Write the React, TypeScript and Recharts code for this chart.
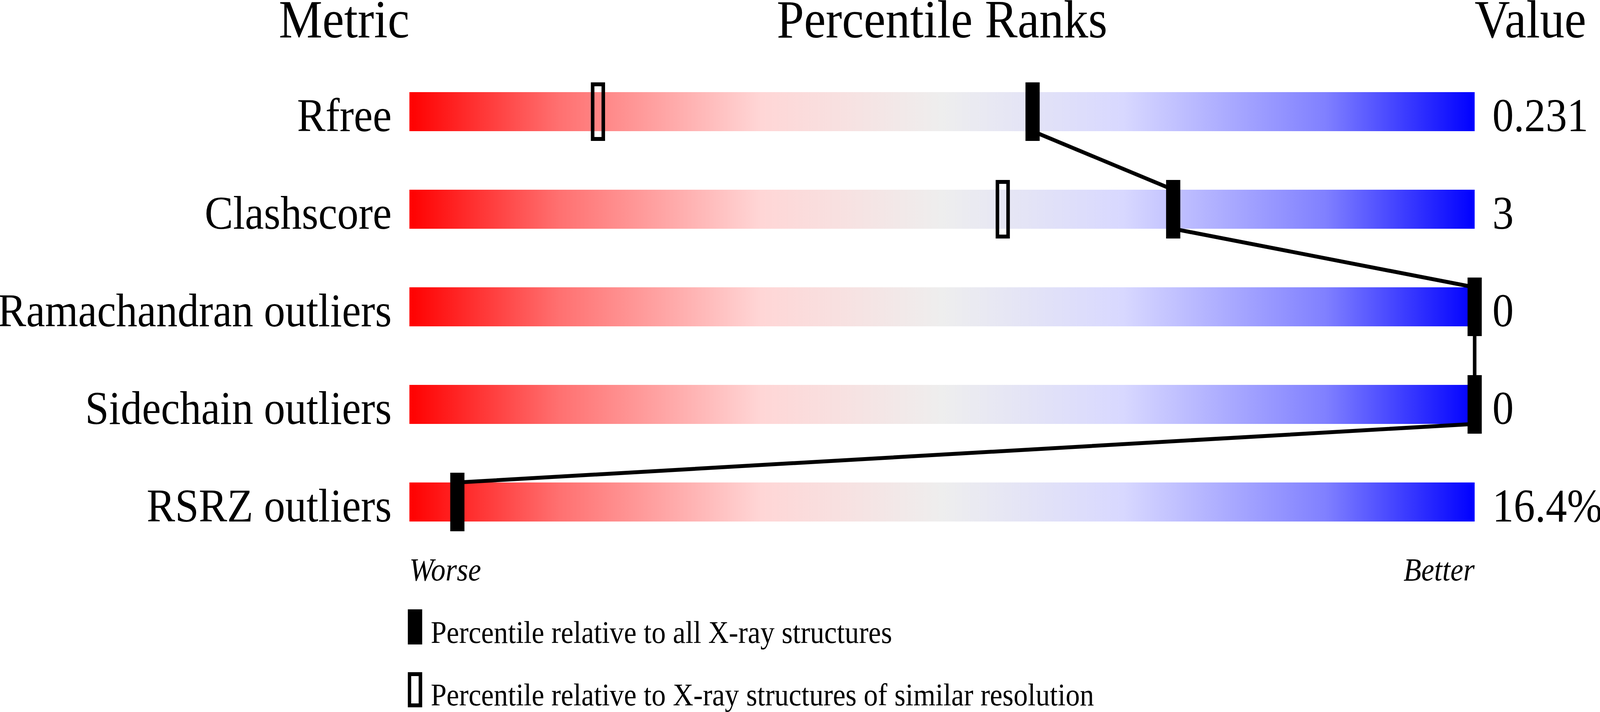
import React from 'react';
import { ComposedChart, Bar, Scatter, XAxis, YAxis, Legend } from 'recharts';

// metric rows, top to bottom
const metrics = ['Rfree', 'Clashscore', 'Ramachandran outliers', 'Sidechain outliers', 'RSRZ outliers'];
const metricValues = ['0.231', '3', '0', '0', '16.4%'];
// percentile relative to all X-ray structures
const pctAll = [58.5, 71.7, 100, 100, 4.5];
// percentile relative to structures of similar resolution (only shown for some metrics)
const pctSimilar = [17.7, 55.7, null, null, null];

const headers = ['Metric', 'Percentile Ranks', 'Value'];
const headerTicks = [0, 50, 100];
const scaleEnds = ['Worse', 'Better'];
const legendLabels = [
  'Percentile relative to all X-ray structures',
  'Percentile relative to X-ray structures of similar resolution',
];

const FONT = '"Liberation Serif", "Times New Roman", serif';
const BAR_HALF = 0.2; // half bar height in row units (100px bar / 250px row)
const W = 4506;
const H = 1824;

const rows = metrics.map((m, i) => ({ row: i, metric: m, full: 100 }));
const allPoints = pctAll.map((p, i) => ({ pct: p, row: i }));
const similarPoints = pctSimilar
  .map((p, i) => ({ pct: p, row: i }))
  .filter((d) => d.pct !== null);
// zig-zag through bar top/bottom edges at each "all" percentile
const linkPoints = pctAll.flatMap((p, i) => [
  { pct: p, row: i - BAR_HALF },
  { pct: p, row: i + BAR_HALF },
]);

const MetricTick = ({ x, y, payload }: any) => (
  <text x={x} y={y} dy={50} textAnchor="end" fontSize={120} fontFamily={FONT} fill="#000">
    {metrics[payload.value]}
  </text>
);

const ValueTick = ({ x, y, payload }: any) => (
  <text x={x} y={y} dy={50} textAnchor="start" fontSize={120} fontFamily={FONT} fill="#000">
    {metricValues[payload.value]}
  </text>
);

const HeaderTick = ({ x, y, payload }: any) => {
  const idx = headerTicks.indexOf(payload.value);
  const anchor = idx === 0 ? 'end' : idx === 1 ? 'middle' : 'start';
  return (
    <text x={x} y={y} textAnchor={anchor} fontSize={138} fontFamily={FONT} fill="#000">
      {headers[idx]}
    </text>
  );
};

const EndTick = ({ x, y, payload }: any) => {
  const isStart = payload.value === 0;
  return (
    <text
      x={x}
      y={y}
      textAnchor={isStart ? 'start' : 'end'}
      fontSize={82}
      fontStyle="italic"
      fontFamily={FONT}
      fill="#000"
    >
      {isStart ? scaleEnds[0] : scaleEnds[1]}
    </text>
  );
};

const SolidMarker = ({ cx, cy }: any) => (
  <rect x={cx - 20} y={cy - 75} width={40} height={150} fill="#000" />
);

const HollowMarker = ({ cx, cy }: any) => (
  <rect x={cx - 15} y={cy - 70} width={30} height={140} fill="none" stroke="#000" strokeWidth={10} />
);

const LegendContent = () => (
  <svg width={2300} height={260} style={{ overflow: 'visible' }}>
    <rect x={0} y={0} width={41} height={90} fill="#000" />
    <text x={65} y={86} fontSize={80} fontFamily={FONT} fill="#000">
      {legendLabels[0]}
    </text>
    <rect x={5} y={166} width={31} height={80} fill="none" stroke="#000" strokeWidth={10} />
    <text x={65} y={246} fontSize={80} fontFamily={FONT} fill="#000">
      {legendLabels[1]}
    </text>
  </svg>
);

export default function App() {
  // the visible viewport can be narrower than the requested width; squeeze to fit
  const fit = typeof window !== 'undefined' ? Math.min(1, window.innerWidth / W) : 1;
  return (
    <div
      style={{
        width: W,
        height: H,
        background: '#fff',
        transform: `scaleX(${fit})`,
        transformOrigin: '0 0',
      }}
    >
      <style>{'body{margin:0;overflow:hidden}'}</style>
      <ComposedChart
        width={W}
        height={H}
        data={rows}
        layout="vertical"
        margin={{ top: 0, right: 0, bottom: 313, left: 0 }}
      >
        <defs>
          <linearGradient id="pctGrad" x1="0" y1="0" x2="1" y2="0">
            <stop offset="0" stopColor="#ff0000" />
            <stop offset="0.14" stopColor="#ff7070" />
            <stop offset="0.33" stopColor="#ffd6d6" />
            <stop offset="0.5" stopColor="#eeeeee" />
            <stop offset="0.67" stopColor="#d8d8ff" />
            <stop offset="0.86" stopColor="#8080ff" />
            <stop offset="1" stopColor="#0000ff" />
          </linearGradient>
        </defs>
        <XAxis
          type="number"
          dataKey="pct"
          domain={[0, 100]}
          ticks={[0, 100]}
          interval={0}
          height={100}
          axisLine={false}
          tickLine={false}
          tickSize={0}
          tickMargin={76}
          tick={<EndTick />}
        />
        {/* header row; no series uses this axis, so its domain must be forced */}
        <XAxis
          xAxisId="top"
          orientation="top"
          type="number"
          domain={[0, 100]}
          ticks={headerTicks}
          interval={0}
          height={161}
          axisLine={false}
          tickLine={false}
          tickSize={0}
          tickMargin={65}
          tick={<HeaderTick />}
          allowDataOverflow
        />
        <YAxis
          type="number"
          dataKey="row"
          domain={[-0.5, 4.5]}
          ticks={[0, 1, 2, 3, 4]}
          interval={0}
          width={1153}
          axisLine={false}
          tickLine={false}
          tickSize={0}
          tickMargin={50}
          tick={<MetricTick />}
        />
        <YAxis
          yAxisId="right"
          orientation="right"
          type="number"
          dataKey="row"
          domain={[-0.5, 4.5]}
          ticks={[0, 1, 2, 3, 4]}
          interval={0}
          width={353}
          axisLine={false}
          tickLine={false}
          tickSize={0}
          tickMargin={50}
          tick={<ValueTick />}
        />
        <Bar dataKey="full" barSize={100} fill="url(#pctGrad)" isAnimationActive={false} legendType="none" />
        <Scatter
          yAxisId="right"
          data={linkPoints}
          line={{ stroke: '#000', strokeWidth: 10 }}
          shape={() => <g />}
          isAnimationActive={false}
          legendType="none"
        />
        <Scatter data={similarPoints} shape={<HollowMarker />} isAnimationActive={false} legendType="none" />
        <Scatter data={allPoints} shape={<SolidMarker />} isAnimationActive={false} legendType="none" />
        <Legend
          layout="vertical"
          align="center"
          verticalAlign="middle"
          content={<LegendContent />}
          wrapperStyle={{ left: 1148, top: 1561, width: 2300, height: 260 }}
        />
      </ComposedChart>
    </div>
  );
}
